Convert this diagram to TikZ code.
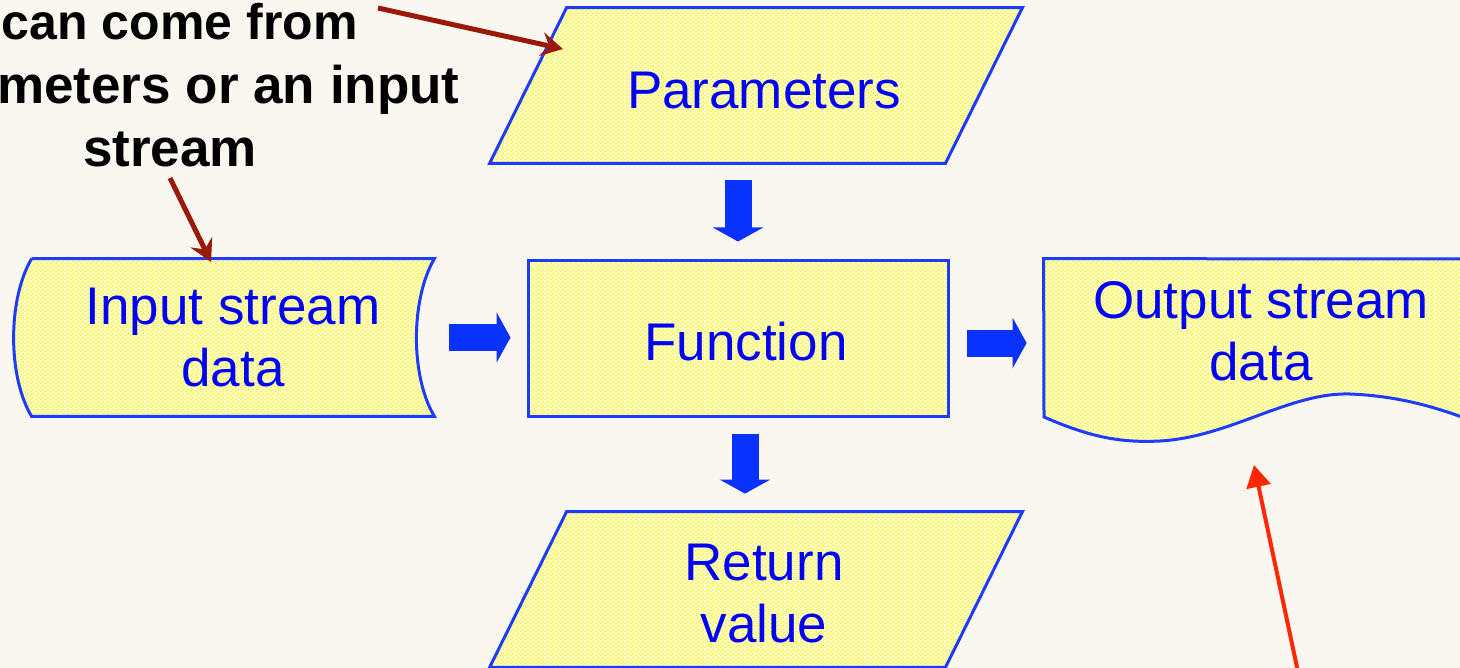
\documentclass[tikz,border=0pt]{standalone}
\usepackage{fontspec}
\setmainfont{Liberation Sans}
\usetikzlibrary{arrows.meta,patterns,backgrounds}

\definecolor{paper}{RGB}{249,247,240}
\definecolor{boxblue}{RGB}{30,60,255}
\definecolor{textblue}{RGB}{0,0,255}
\definecolor{arrowblue}{RGB}{10,50,255}
\definecolor{pointred}{RGB}{155,25,10}
\definecolor{brightred}{RGB}{255,40,0}
\definecolor{dotyellow}{RGB}{255,236,0}
\definecolor{boxfill}{RGB}{255,255,195}

% small offset dashes, like the dotted fill of the boxes
\pgfdeclarepatternformonly{yellowdots}{\pgfpointorigin}{\pgfqpoint{2.5pt}{2pt}}{\pgfqpoint{2.5pt}{2pt}}{
  \pgfpathellipse{\pgfqpoint{0.65pt}{0.5pt}}{\pgfqpoint{0.6pt}{0pt}}{\pgfqpoint{0pt}{0.4pt}}
  \pgfpathellipse{\pgfqpoint{1.9pt}{1.5pt}}{\pgfqpoint{0.6pt}{0pt}}{\pgfqpoint{0pt}{0.4pt}}
  \pgfusepath{fill}
}

\tikzset{
  databox/.style={draw=boxblue, line width=1.5pt, preaction={fill=boxfill},
    pattern=yellowdots, pattern color=dotyellow},
  boxnode/.style={rectangle, inner sep=0pt, align=center, text=textblue,
    font=\fontsize{26.5}{31}\selectfont},
  notetext/.style={inner sep=0pt, font=\fontsize{26.5}{32}\selectfont\bfseries},
  blockarrow/.style={arrowblue, line width=13.5pt,
    -{Triangle[width=25pt,length=7pt]}},
  pointer/.style={pointred, line width=2.5pt,
    -{Stealth[length=11pt,width=12pt,inset=4pt]}},
  callout/.style={brightred, line width=2pt,
    -{Triangle[width=12pt,length=11pt]}},
}

\begin{document}
\begin{tikzpicture}[x=0.5pt,y=-0.5pt]
  \clip (0,0) rectangle (1460,668);
  \begin{scope}[on background layer]
    \fill[paper] (0,0) rectangle (1460,668);
  \end{scope}

  % the boxes
  \node[boxnode, minimum width=266pt, minimum height=77.5pt] (params) at (756,85.5) {\hspace*{8pt}\rule{0pt}{23.5pt}Parameters};
  \node[boxnode, minimum width=201pt, minimum height=78.5pt] (input) at (233,337.5) {Input stream\\data};
  \node[boxnode, databox, minimum width=210pt, minimum height=78pt] (func) at (738,338) {\hspace*{8pt}\rule{0pt}{23pt}Function};
  \node[boxnode, minimum width=217pt, minimum height=72pt] (output) at (1261,331) {Output stream\\data};
  \node[boxnode, minimum width=266pt, minimum height=77.5pt] (retval) at (756,589.5) {\hspace*{8pt}\rule{0pt}{22pt}Return\\\hspace*{8pt}value};

  \begin{scope}[on background layer]
    \path[databox] (params.south west) -- ([xshift=38.5pt]params.north west)
      -- (params.north east) -- ([xshift=-38.5pt]params.south east) -- cycle;
    \path[databox] (retval.south west) -- ([xshift=38.5pt]retval.north west)
      -- (retval.north east) -- ([xshift=-38.5pt]retval.south east) -- cycle;
    \path[databox] (input.north west) -- (input.north east)
      .. controls +(-24,41) and +(-24,-40) .. (input.south east)
      -- (input.south west)
      .. controls +(-24,-40) and +(-24,41) .. (input.north west);
    \path[databox] (output.north west) -- (1480,259) -- (1480,424)
      .. controls (1440,408) and (1400,396) .. (1350,394)
      .. controls (1290,392) and (1230,437) .. (1160,441)
      .. controls (1120,443) and (1090,437) .. (1044,417) -- cycle;
  \end{scope}

  % block arrows
  \draw[blockarrow, shorten <=8.5pt, shorten >=8.5pt] (func.north |- params.south) -- (func.north);
  \draw[blockarrow, shorten <=7.5pt, shorten >=8pt] (input.east) -- (input.east -| func.west);
  \draw[blockarrow, shorten <=8.5pt, shorten >=8.5pt] ([yshift=-2.5pt]func.east) -- ([yshift=-2.5pt]func.east -| output.west);
  \draw[blockarrow, shorten <=8pt, shorten >=9pt] ([xshift=3.5pt]func.south) -- ([xshift=3.5pt]func.south |- retval.north);

  % notes
  \node[notetext, font=\fontsize{25}{32}\selectfont\bfseries, anchor=base east] (note1) at (358,40) {can come from};
  \node[notetext, anchor=base east] (note2) at (460,104) {meters or an input};
  \node[notetext, anchor=base] (note3) at (170,167) {stream};
  \coordinate (from1) at (378,8);
  \coordinate (tip1) at (563,49);
  \coordinate (from2) at (170,178);
  \coordinate (tip2) at (211,262);
  \draw[pointer] (from1) -- (tip1);
  \draw[pointer] (from2) -- (tip2);

  \coordinate (foot) at (1298,672);
  \coordinate (tip3) at (1254,465);
  \draw[callout] (foot) -- (tip3);
\end{tikzpicture}
\end{document}
